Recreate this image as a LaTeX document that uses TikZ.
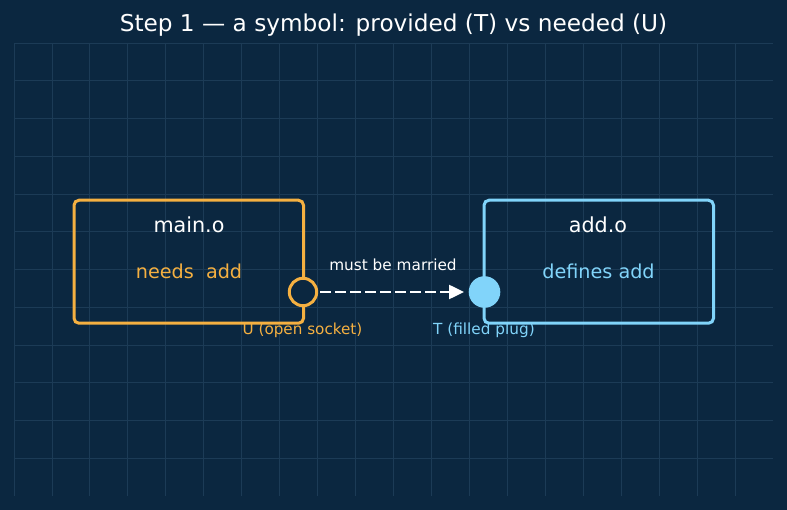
\documentclass[tikz,border=0pt]{standalone}
\usepackage{fontspec}
\setmainfont{DejaVu Sans}
\usetikzlibrary{arrows.meta}
\definecolor{bg}{HTML}{0B2740}
\definecolor{gridc}{HTML}{1C3B56}
\definecolor{orng}{HTML}{F5B041}
\definecolor{lblue}{HTML}{81D4FA}
\newcommand{\fsz}[1]{\fontsize{#1}{#1}\selectfont}
\begin{document}
\begin{tikzpicture}[x=1pt,y=-1pt,
  objbox/.style={draw, line width=3pt, rounded corners=5pt, minimum width=229.5pt, minimum height=123pt, inner sep=0pt, outer sep=0pt},
  txt/.style={anchor=base, inner sep=0pt, outer sep=0pt},
  gridline/.style={draw=gridc, line width=0.9pt},
  socket/.style={circle, draw=orng, fill=bg, line width=3pt, minimum size=27.4pt, inner sep=0pt},
  plugc/.style={circle, fill=lblue, minimum size=31.6pt, inner sep=0pt},
  conn/.style={white, line width=2.5pt, dash pattern=on 10.5pt off 4.5pt, -{Triangle[length=15pt,width=14pt]}}
]
\fill[bg] (0,0) rectangle (787,510);
\useasboundingbox (0,0) rectangle (787,510);
\foreach \i in {0,...,19} \path[gridline] ({14+37.95*\i},43) -- ({14+37.95*\i},496);
\foreach \j in {0,...,11} \path[gridline] (14,{43+37.75*\j}) -- (773,{43+37.75*\j});

\node[txt, white] (title) at (393.5,32) {\fsz{23.2}Step 1 — a symbol: provided (T) vs needed (U)};

\node[objbox, draw=orng] (main) at (188.75,261.75) {};
\node[objbox, draw=lblue] (add) at (598.75,261.75) {};

\node[txt, white] (mainlbl) at (189,232.7) {\fsz{20.7}main.o};
\node[txt, orng] (needs) at (189,278.5) {\fsz{19.2}needs\ \ add};
\node[txt, white] (addlbl) at (598,232.7) {\fsz{20.7}add.o};
\node[txt, lblue] (defs) at (598.5,278.5) {\fsz{19.2}defines add};

\node[socket] (sock) at (303,292) {};
\node[plugc] (plug) at (484.5,292) {};
\draw[conn, shorten <=2pt, shorten >=4.5pt] (sock) -- (plug);

\node[txt, white] (married) at (393,270.3) {\fsz{15.3}must be married};
\node[txt, orng] (ulbl) at (302.5,334.3) {\fsz{15.2}U (open socket)};
\node[txt, lblue] (tlbl) at (484,334.3) {\fsz{15.3}T (filled plug)};
\end{tikzpicture}
\end{document}
